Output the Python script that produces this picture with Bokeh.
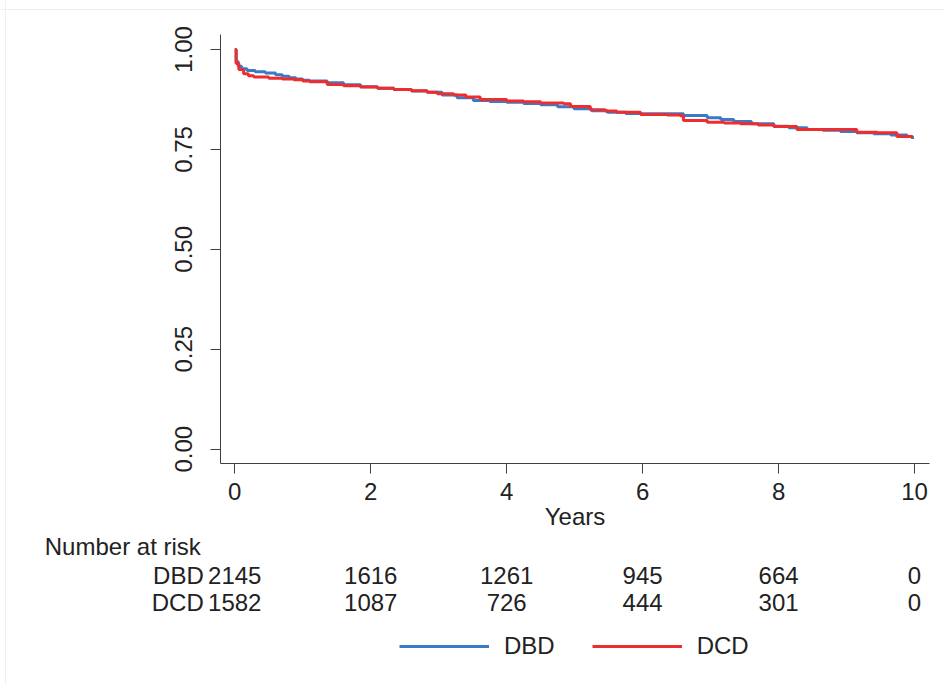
from bokeh.plotting import figure
from bokeh.models import (FixedTicker, Legend, LegendItem, LinearAxis,
                          NumeralTickFormatter, Range1d, Span)
from bokeh.core.properties import value
from bokeh.embed import file_html
from bokeh.resources import INLINE

# ---- data ----
groups = ["DBD", "DCD"]

years_dbd = [0, 0.02, 0.05, 0.1, 0.18, 0.3, 0.45, 0.6, 0.7, 0.8, 0.9, 1.0, 1.1,
             1.36, 1.6, 1.85, 2.1, 2.34, 2.6, 2.83, 3.05, 3.27, 3.51, 3.75, 4.0,
             4.25, 4.5, 4.75, 4.99, 5.25, 5.48, 5.75, 5.97, 6.36, 6.6, 6.95, 7.15,
             7.34, 7.6, 7.93, 8.15, 8.42, 8.65, 8.91, 9.15, 9.40, 9.65, 9.89, 9.97]
surv_dbd = [1.0, 0.97, 0.958, 0.952, 0.9475, 0.944, 0.941, 0.937, 0.933, 0.929,
            0.926, 0.923, 0.921, 0.917, 0.912, 0.907, 0.903, 0.900, 0.896, 0.893,
            0.886, 0.879, 0.8725, 0.870, 0.868, 0.865, 0.8617, 0.857, 0.8517,
            0.847, 0.843, 0.840, 0.839, 0.839, 0.835, 0.829, 0.825, 0.820, 0.814,
            0.808, 0.804, 0.800, 0.798, 0.795, 0.792, 0.789, 0.786, 0.7825, 0.776]

years_dcd = [0, 0.02, 0.06, 0.13, 0.2, 0.28, 0.5, 0.7, 0.87, 1.0, 1.1, 1.36, 1.6,
             1.85, 2.1, 2.34, 2.6, 2.83, 2.98, 3.22, 3.4, 3.61, 4.0, 4.25, 4.5,
             4.84, 4.94, 5.23, 5.45, 5.62, 5.97, 6.36, 6.55, 6.6, 6.95, 7.2, 7.44,
             7.7, 7.93, 8.27, 8.6, 8.9, 9.15, 9.45, 9.74, 9.8, 9.96]
surv_dcd = [1.0, 0.965, 0.95, 0.939, 0.934, 0.931, 0.928, 0.926, 0.924, 0.921,
            0.919, 0.9125, 0.909, 0.906, 0.903, 0.900, 0.897, 0.893, 0.889, 0.886,
            0.881, 0.875, 0.871, 0.869, 0.866, 0.864, 0.8575, 0.849, 0.846, 0.843,
            0.8375, 0.836, 0.834, 0.8225, 0.818, 0.816, 0.814, 0.811, 0.8075,
            0.800, 0.800, 0.800, 0.793, 0.792, 0.7825, 0.782, 0.779]

risk_times = [0, 2, 4, 6, 8, 10]
risk_dbd = [2145, 1616, 1261, 945, 664, 0]
risk_dcd = [1582, 1087, 726, 444, 301, 0]

x_ticks = [0, 2, 4, 6, 8, 10]
y_ticks = [0.0, 0.25, 0.5, 0.75, 1.0]

# ---- style / layout ----
FONT = "Liberation Sans"
FS = "24px"
TXT = "#222222"
AX = "#404040"
BLUE = "#3a7bc8"
RED = "#ee2d2f"

W, H = 945, 684
# axis extents (data units) and where they sit on the canvas (px)
X0, X1 = -0.21, 10.22
Y0, Y1 = -0.0358, 1.0375
AX_LEFT_PX, AX_RIGHT_PX = 220, 929
AX_TOP_PX, AX_BOTTOM_PX = 34, 463

ppx = (AX_RIGHT_PX - AX_LEFT_PX) / (X1 - X0)
ppy = (AX_BOTTOM_PX - AX_TOP_PX) / (Y1 - Y0)
x_range = Range1d(X0 - AX_LEFT_PX / ppx, X1 + (W - AX_RIGHT_PX) / ppx)
y_range = Range1d(Y0 - (H - AX_BOTTOM_PX) / ppy, Y1 + AX_TOP_PX / ppy)

p = figure(width=W, height=H, x_range=x_range, y_range=y_range,
           output_backend="svg", toolbar_location=None, min_border=0,
           x_axis_location=None, y_axis_location=None)
p.xgrid.visible = False
p.ygrid.visible = False
p.outline_line_color = None
p.background_fill_color = "white"
p.border_fill_color = "white"

# faint outer frame of the graph region (left and top edges)
p.add_layout(Span(location=x_range.start + 5 / ppx, dimension="height",
                  line_color="#efefef", line_width=1))
p.add_layout(Span(location=y_range.end - 9 / ppy, dimension="width",
                  line_color="#efefef", line_width=1))

r_dbd = p.step(years_dbd, surv_dbd, mode="after", line_width=3, line_color=BLUE)
r_dcd = p.step(years_dcd, surv_dcd, mode="after", line_width=3, line_color=RED)

xaxis = LinearAxis(fixed_location=Y0, bounds=(X0, X1),
                   ticker=FixedTicker(ticks=x_ticks),
                   axis_label="Years", major_label_standoff=9,
                   axis_label_standoff=0)
yaxis = LinearAxis(fixed_location=X0, bounds=(Y0, Y1),
                   ticker=FixedTicker(ticks=y_ticks),
                   formatter=NumeralTickFormatter(format="0.00"),
                   major_label_orientation="vertical",
                   major_label_standoff=18)
for ax in (xaxis, yaxis):
    ax.axis_line_color = AX
    ax.major_tick_line_color = AX
    ax.major_tick_out = 10
    ax.major_tick_in = 0
    ax.minor_tick_line_color = None
    ax.major_label_text_font = FONT
    ax.major_label_text_font_size = FS
    ax.major_label_text_color = TXT
    ax.axis_label_text_font = FONT
    ax.axis_label_text_font_size = FS
    ax.axis_label_text_font_style = "normal"
    ax.axis_label_text_color = TXT
p.add_layout(xaxis, "below")
p.add_layout(yaxis, "left")

# ---- number-at-risk table ----
HEAD_Y = -0.244
ROW_Y = [-0.315, -0.3825]

txt = dict(text_baseline="middle", text_font=value(FONT),
           text_font_size=value(FS), text_color=TXT)
p.text(x=[risk_times[0]], y=[HEAD_Y], text=["Number at risk"],
       text_align="left", x_offset=-190, **txt)
p.text(x=[risk_times[0]] * 2, y=ROW_Y, text=groups,
       text_align="right", x_offset=-31, **txt)
for counts, ry in zip([risk_dbd, risk_dcd], ROW_Y):
    p.text(x=risk_times, y=[ry] * len(risk_times),
           text=[str(n) for n in counts], text_align="center", **txt)

# ---- legend ----
legend = Legend(items=[LegendItem(label=groups[0], renderers=[r_dbd]),
                       LegendItem(label=groups[1], renderers=[r_dcd])],
                orientation="horizontal", location=(399, 24),
                glyph_width=90, glyph_height=28, label_height=28,
                label_standoff=15, spacing=37,
                padding=0, margin=0, border_line_color=None,
                background_fill_alpha=0,
                label_text_font=FONT, label_text_font_size=FS,
                label_text_color=TXT)
p.add_layout(legend)

open("out.html", "w").write(file_html(p, INLINE))
